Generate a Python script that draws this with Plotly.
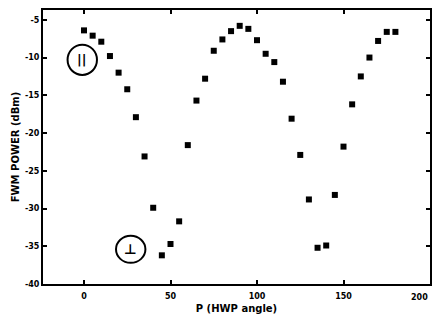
import plotly.graph_objects as go

angle_deg = [0, 5, 10, 15, 20, 25, 30, 35, 40, 45, 50, 55, 60, 65, 70, 75, 80, 85, 90,
             95, 100, 105, 110, 115, 120, 125, 130, 135, 140, 145, 150, 155, 160, 165, 170, 175, 180]
power_dbm = [-6.4, -7.1, -7.9, -9.8, -12.0, -14.2, -17.9, -23.1, -29.9, -36.2, -34.7, -31.7,
             -21.6, -15.7, -12.8, -9.1, -7.6, -6.5, -5.8, -6.2, -7.7, -9.5, -10.6, -13.2,
             -18.1, -22.9, -28.8, -35.2, -34.9, -28.2, -21.8, -16.2, -12.5, -10.0, -7.8, -6.6, -6.6]
x_ticks = [0, 50, 100, 150, 200]
y_ticks = [-5, -10, -15, -20, -25, -30, -35, -40]

fig = go.Figure()
fig.add_trace(go.Scatter(
    x=angle_deg, y=power_dbm, mode="markers",
    marker=dict(symbol="square", size=6, color="black"),
    showlegend=False,
))

# circled polarization labels
fig.add_shape(type="circle", xref="x", yref="y",
              x0=-9.5, x1=7.5, y0=-12.3, y1=-8.3,
              line=dict(color="black", width=2))
fig.add_annotation(x=-1, y=-10.3, text="<b>||</b>", showarrow=False,
                   font=dict(size=13, color="black", family="DejaVu Sans"))
fig.add_shape(type="circle", xref="x", yref="y",
              x0=18.5, x1=35.5, y0=-37.2, y1=-33.6,
              line=dict(color="black", width=2))
fig.add_annotation(x=27, y=-35.4, text="<b>⊥</b>", showarrow=False,
                   font=dict(size=14, color="black", family="DejaVu Sans"))

# last x tick label sits on the right border
fig.add_annotation(x=200, y=0, xref="x", yref="paper", yshift=-7,
                   text="<b>200</b>", showarrow=False, xanchor="right", yanchor="top",
                   font=dict(size=8, color="black", family="DejaVu Sans"))

axis_common = dict(
    showline=True, linecolor="black", linewidth=2, mirror="ticks",
    ticks="inside", ticklen=4, tickwidth=2, tickcolor="black",
    showgrid=False, zeroline=False,
    tickfont=dict(size=8, color="black", family="DejaVu Sans"),
)

fig.update_layout(
    width=433, height=320,
    margin=dict(l=43, r=1, t=10, b=36),
    paper_bgcolor="white", plot_bgcolor="white",
    font=dict(family="DejaVu Sans", color="black"),
    xaxis=dict(range=[-23.7, 200], tickvals=x_ticks,
               ticktext=[f"<b>{v}</b>" for v in x_ticks],
               title=dict(text="<b>P (HWP angle)</b>", font=dict(size=10), standoff=5),
               ticklabelstandoff=3,
               **axis_common),
    yaxis=dict(range=[-40, -3.7], tickvals=y_ticks,
               ticktext=[f"<b>{v}</b>" for v in y_ticks],
               title=dict(text="<b>FWM POWER (dBm)</b>", font=dict(size=10), standoff=3),
               **axis_common),
)

fig.write_html("out.html")
